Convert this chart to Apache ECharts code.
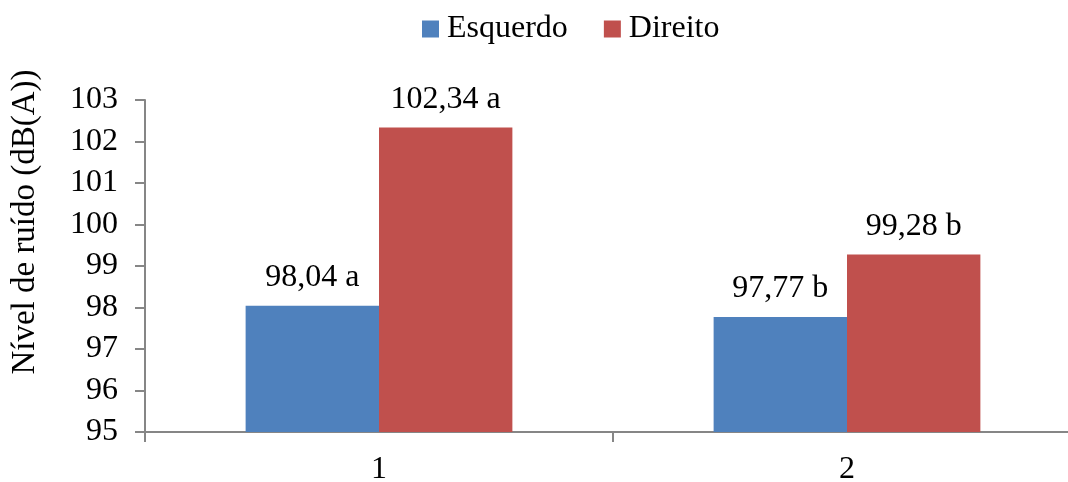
<!DOCTYPE html>
<html>
<head>
<meta charset="utf-8">
<style>
  html, body { margin: 0; padding: 0; background: #fff; }
  #chart { width: 1068px; height: 482px; }
</style>
<script src="https://cdn.jsdelivr.net/npm/echarts@6/dist/echarts.min.js"></script>
</head>
<body>
<div id="chart"></div>
<script>
// Ruído medido por lado (dB(A))
const categories = ['1', '2'];
const esquerdo = [98.04, 97.77];
const direito = [102.34, 99.28];
const letrasEsquerdo = ['a', 'b'];
const letrasDireito = ['a', 'b'];
const yTicks = { min: 95, max: 103, interval: 1 };

const FONT = '"Liberation Serif", "Times New Roman", serif';
const AXIS_GRAY = '#868686';

function fmt(v) {
  return v.toFixed(2).replace('.', ',');
}

function labelFor(letters) {
  return {
    show: true,
    position: 'top',
    distance: 12,
    fontFamily: FONT,
    fontSize: 32,
    color: '#000',
    formatter: p => fmt(p.value) + ' ' + letters[p.dataIndex]
  };
}

const chart = echarts.init(document.getElementById('chart'), null, { renderer: 'canvas' });

chart.setOption({
  animation: false,
  backgroundColor: '#fff',
  textStyle: { fontFamily: FONT },
  legend: {
    top: 8,
    left: 417,
    itemWidth: 17,
    itemHeight: 17,
    itemGap: 36,
    icon: 'rect',
    textStyle: { fontFamily: FONT, fontSize: 32, color: '#000', padding: [0, 0, 0, 3] },
    data: ['Esquerdo', 'Direito']
  },
  // the plot runs past the right edge of the canvas, so the last category boundary is cut off
  grid: {
    left: 145,
    width: 936,
    top: 100,
    height: 332,
    containLabel: false,
    outerBoundsMode: 'none'
  },
  xAxis: {
    type: 'category',
    data: categories,
    axisLine: { lineStyle: { color: AXIS_GRAY, width: 2 } },
    axisTick: { show: true, length: 10, lineStyle: { color: AXIS_GRAY, width: 2 } },
    axisLabel: { fontFamily: FONT, fontSize: 32, color: '#000', margin: 22 }
  },
  yAxis: {
    type: 'value',
    min: yTicks.min,
    max: yTicks.max,
    interval: yTicks.interval,
    name: 'Nível de ruído (dB(A))',
    nameLocation: 'middle',
    nameGap: 103,
    nameRotate: 90,
    nameTextStyle: { fontFamily: FONT, fontSize: 33, color: '#000', padding: [0, 0, 0, 88] },
    axisLine: { show: true, lineStyle: { color: AXIS_GRAY, width: 2 } },
    axisTick: { show: true, length: 10, lineStyle: { color: AXIS_GRAY, width: 2 } },
    axisLabel: { fontFamily: FONT, fontSize: 32, color: '#000', margin: 27 },
    splitLine: { show: false }
  },
  series: [
    {
      name: 'Esquerdo',
      type: 'bar',
      data: esquerdo,
      barWidth: '28.5%',
      barGap: '0%',
      itemStyle: { color: '#4F81BD' },
      label: labelFor(letrasEsquerdo)
    },
    {
      name: 'Direito',
      type: 'bar',
      data: direito,
      barWidth: '28.5%',
      barGap: '0%',
      itemStyle: { color: '#C0504D' },
      label: labelFor(letrasDireito)
    }
  ]
});
</script>
</body>
</html>
